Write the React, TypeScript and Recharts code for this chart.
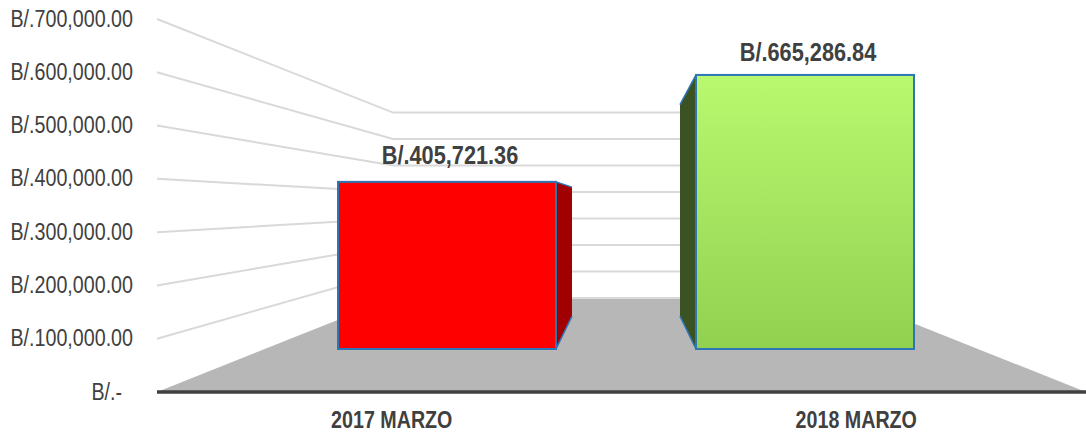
import React from 'react';
import { ComposedChart, Bar, Line, Area, XAxis, YAxis, LabelList } from 'recharts';

const categories = ['2017 MARZO', '2018 MARZO'];
const amounts = [405721.36, 665286.84];
const axisTicks = [0, 100000, 200000, 300000, 400000, 500000, 600000, 700000];

const data = categories.map((category, i) => ({ category, amount: amounts[i] }));

const FONT = '"Liberation Sans", Arial, sans-serif';
const TEXT = '#404040';
const NARROW = 0.82;

// perspective: walls recede halfway towards the vanishing point
const VANISH_X = 626;
const VANISH_Y = 205;
const BAR_DEPTH = 0.2286;
const WALL_DEPTH = 0.503;
const WALL_VANISH_VALUE = 350900;
const WALL_X = 236;
const WALL_END_X = 693;
const PLOT_W = 929;

const money = (v: number) =>
  v === 0 ? 'B/.-' : 'B/.' + v.toLocaleString('en-US', { minimumFractionDigits: 2, maximumFractionDigits: 2 });

const backValue = (v: number) => v + (WALL_VANISH_VALUE - v) * WALL_DEPTH;

const floorPoints = [
  { depth: 0, level: 0 },
  { depth: WALL_X, level: backValue(0) },
  { depth: PLOT_W - WALL_X, level: backValue(0) },
  { depth: PLOT_W, level: 0 },
];

const wallLine = (v: number) => [
  { depth: 0, level: v },
  { depth: WALL_X, level: backValue(v) },
  { depth: WALL_END_X, level: backValue(v) },
];

function NarrowText({ x, y, anchor, size, bold, children }: any) {
  return (
    <text
      transform={`translate(${x},${y}) scale(${NARROW},1)`}
      textAnchor={anchor}
      fill={TEXT}
      fontSize={size}
      fontWeight={bold ? 700 : 400}
      fontFamily={FONT}
    >
      {children}
    </text>
  );
}

// the accounting format pads the zero label on its right
const ValueTick = ({ x, y, payload }: any) => (
  <NarrowText x={payload.value === 0 ? x - 11 : x} y={y + 7.5} anchor="end" size={24}>{money(payload.value)}</NarrowText>
);

const CategoryTick = ({ x, y, payload }: any) => (
  <NarrowText x={x + 2.5} y={y + 8} anchor="middle" size={24} bold>{payload.value}</NarrowText>
);

const labelLift = [18, 14];

const AmountLabel = ({ x, y, width, value, index }: any) => (
  <NarrowText x={x + width / 2 + 3} y={y - labelLift[index]} anchor="middle" size={26.5} bold>{money(value)}</NarrowText>
);

const barStyles = [
  { front: '#ff0000', side: '#a00000' },
  { front: 'url(#greenFace)', side: '#3b5323' },
];

function Box3D(props: any) {
  const { x, y, width, height, index } = props;
  const style = barStyles[index];
  const bottom = y + height;
  const edgeX = x + width < VANISH_X ? x + width : x;
  const back = (py: number) => py + (VANISH_Y - py) * BAR_DEPTH;
  const backX = edgeX + (VANISH_X - edgeX) * BAR_DEPTH;
  const side = `${edgeX},${y} ${backX},${back(y)} ${backX},${back(bottom)} ${edgeX},${bottom}`;
  return (
    <g>
      <polygon points={side} fill={style.side} />
      <line x1={edgeX} y1={y} x2={backX} y2={back(y)} stroke="#2e75b6" strokeWidth={1.5} />
      <line x1={edgeX} y1={bottom} x2={backX} y2={back(bottom)} stroke="#2e75b6" strokeWidth={1.5} />
      <rect x={x} y={y} width={width} height={height} fill={style.front} stroke="#2e75b6" strokeWidth={2} />
    </g>
  );
}

export default function App() {
  return (
    <div style={{ position: 'fixed', left: 0, top: 0, width: 1086, height: 433, background: '#fff' }}>
      <ComposedChart
        width={1086}
        height={433}
        data={data}
        margin={{ top: 19, right: 0, bottom: 0, left: 0 }}
        barCategoryGap={0}
      >
        <defs>
          <linearGradient id="greenFace" x1="0" y1="0" x2="0" y2="1">
            <stop offset="0%" stopColor="#b8f96f" />
            <stop offset="100%" stopColor="#92d050" />
          </linearGradient>
        </defs>
        <XAxis
          xAxisId="labels"
          dataKey="category"
          height={41}
          tickLine={false}
          tickSize={0}
          tickMargin={28}
          axisLine={{ stroke: TEXT, strokeWidth: 3.5 }}
          tick={<CategoryTick />}
        />
        <XAxis xAxisId="bars" dataKey="category" hide orientation="top" height={0} padding={{ left: 111, right: 102 }} />
        <XAxis xAxisId="depth" dataKey="depth" type="number" domain={[0, PLOT_W]} hide orientation="top" height={0} />
        <YAxis
          yAxisId="values"
          width={157}
          domain={[0, 700000]}
          ticks={axisTicks}
          axisLine={false}
          tickLine={false}
          tickSize={0}
          tickMargin={24}
          interval={0}
          tick={<ValueTick />}
        />
        <YAxis yAxisId="front" domain={[-104400, 801100]} hide orientation="right" width={0} />

        <Area
          xAxisId="depth"
          yAxisId="values"
          data={floorPoints}
          dataKey="level"
          type="linear"
          stroke="none"
          fill="#b7b7b7"
          fillOpacity={1}
          dot={false}
          activeDot={false}
          isAnimationActive={false}
          zIndex={50}
        />
        {axisTicks.map((v) => (
          <Line
            key={v}
            xAxisId="depth"
            yAxisId="values"
            data={v === 0 ? wallLine(v).slice(1) : wallLine(v)}
            dataKey="level"
            type="linear"
            stroke="#d9d9d9"
            strokeWidth={2}
            dot={false}
            activeDot={false}
            isAnimationActive={false}
            zIndex={60}
          />
        ))}
        <Bar
          xAxisId="bars"
          yAxisId="front"
          dataKey="amount"
          barSize={218}
          shape={<Box3D />}
          isAnimationActive={false}
        >
          <LabelList dataKey="amount" content={<AmountLabel />} />
        </Bar>
      </ComposedChart>
    </div>
  );
}
